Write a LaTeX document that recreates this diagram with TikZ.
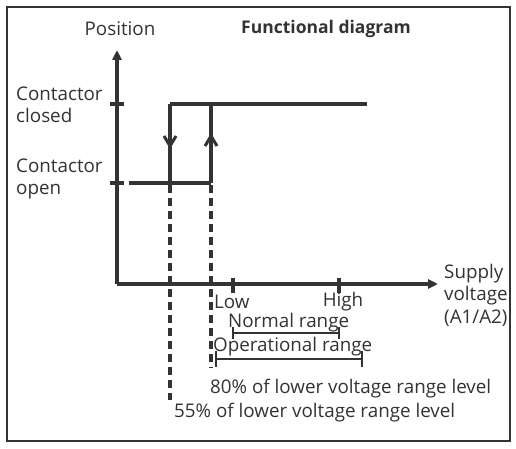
\documentclass[tikz,border=0pt]{standalone}
\usepackage{fontspec}
\setmainfont{Open Sans}
\usetikzlibrary{arrows.meta}
\definecolor{ink}{HTML}{333333}
\begin{document}
\begin{tikzpicture}[x=1pt,y=-1pt,
  axis/.style={line width=3.3pt,draw=ink,-{Triangle[length=10pt,width=9pt]}},
  thick line/.style={line width=3.3pt,draw=ink},
  tick/.style={line width=3.3pt,draw=ink},
  chevron/.style={line width=3pt,draw=ink,line join=miter},
  dashline/.style={line width=3.3pt,draw=ink,dash pattern=on 8pt off 5pt},
  rangebar/.style={line width=2.5pt,draw=ink},
  lbl/.style={font=\fontsize{18.8}{22.5}\selectfont,text=ink,inner sep=0pt,align=left},
]
\useasboundingbox (0,0) rectangle (516,449);
\fill[white] (0,0) rectangle (516,449);
\draw[line width=2pt,draw=ink] (7,7) rectangle (510,441);

% coordinates
\coordinate (O) at (117,284);
\coordinate (Ytop) at (117,50);
\coordinate (Xend) at (438,284);
\coordinate (C1) at (170,104);
\coordinate (C2) at (367,104);
\coordinate (P1) at (129,183);
\coordinate (P2) at (211,183);
\coordinate (D1) at (170,183);
\coordinate (U1) at (211,104);
\coordinate (D1b) at (170,400);
\coordinate (U1b) at (211,368);

% axes
\draw[axis] (O) -- (Ytop);
\draw[axis] (O) -- (Xend);
% y ticks
\draw[tick] (110,104) -- (124,104);
\draw[tick] (110,183) -- (124,183);
% x ticks
\draw[tick] (233,278) -- (233,293);
\draw[tick] (339,278) -- (339,293);

% hysteresis
\draw[thick line] (C1) -- (C2);
\draw[thick line] (P1) -- (P2);
\draw[thick line] (C1) -- (D1);
\draw[thick line] (P2) -- (U1);
\draw[chevron] (164,136) -- (170,146) -- (176,136);
\draw[chevron] (205,146) -- (211,136) -- (217,146);

% dashed
\draw[dashline] (170,185) -- (D1b);
\draw[dashline] (211,185) -- (U1b);

% range bars
\draw[rangebar] (233,333) -- (339,333);
\draw[rangebar] (233,327) -- (233,339);
\draw[rangebar] (339,327) -- (339,339);
\draw[rangebar] (216,359) -- (362,359);
\draw[rangebar] (216,351) -- (216,367);
\draw[rangebar] (362,351) -- (362,367);

% labels
\node[lbl] (pos) at (120,29) {Position};
\node[lbl,font=\fontsize{17.5}{22.5}\selectfont\bfseries] (title) at (326,29) {Functional diagram};
\node[lbl,anchor=west] (closed) at (16,105) {Contactor\\closed};
\node[lbl,anchor=west] (open) at (16,179) {Contactor\\open};
\node[lbl,anchor=west] (sup) at (444,295) {Supply\\voltage\\(A1/A2)};
\node[lbl,anchor=west] (low) at (214,302) {Low};
\node[lbl] (high) at (343,302) {High};
\node[lbl,anchor=west] (norm) at (228,323) {Normal range};
\node[lbl,anchor=west] (oper) at (213,347) {Operational range};
\node[lbl,anchor=west] (p80) at (210,389) {80\% of lower voltage range level};
\node[lbl,anchor=west] (p55) at (174,413) {55\% of lower voltage range level};
\end{tikzpicture}
\end{document}
